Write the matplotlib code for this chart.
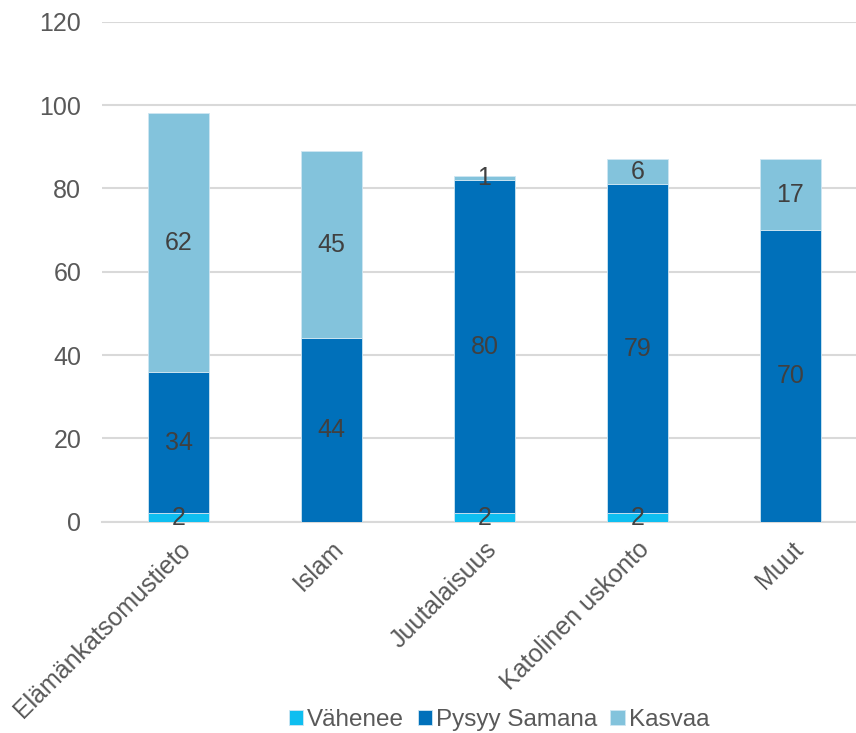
import numpy as np
import matplotlib.pyplot as plt

plt.rcParams['font.family'] = ['Liberation Sans', 'DejaVu Sans']

categories = ['Elämänkatsomustieto', 'Islam', 'Juutalaisuus', 'Katolinen uskonto', 'Muut']
vahenee = [2, 0, 2, 2, 0]
pysyy = [34, 44, 80, 79, 70]
kasvaa = [62, 45, 1, 6, 17]
series_names = ['Vähenee', 'Pysyy Samana', 'Kasvaa']
colors = ['#0EBEF0', '#0070BA', '#83C3DC']

W, H = 856, 733
fig = plt.figure(figsize=(W / 100, H / 100), dpi=100)
# plot area in pixels: left 102, right 867 (runs off the image), top 21.7, bottom 521.7
ax = fig.add_axes([102 / W, 1 - 521.7 / H, 765 / W, 500 / H])

fs = 18
x = np.arange(len(categories))
bottom = np.zeros(len(categories))
for vals, name, col in zip([vahenee, pysyy, kasvaa], series_names, colors):
    vals = np.array(vals, dtype=float)
    ax.bar(x, vals, 0.4, bottom=bottom, color=col, label=name,
           edgecolor='#CFE6F2', linewidth=0.6, zorder=3)
    for xi, v, b in zip(x, vals, bottom):
        if v > 0:
            ax.text(xi, b + v / 2, f'{int(v)}', ha='center', va='center',
                    fontsize=fs, color='#404040', zorder=4)
    bottom += vals

ax.set_xlim(-0.5, 4.5)
ax.set_ylim(0, 120)
ax.set_yticks(range(0, 121, 20))
ax.grid(axis='y', color='#D9D9D9', linewidth=1.5, zorder=0)
for s in ['top', 'right', 'left']:
    ax.spines[s].set_visible(False)
ax.spines['bottom'].set_color('#D9D9D9')
ax.spines['bottom'].set_linewidth(1.5)
ax.tick_params(axis='both', length=0, labelsize=fs, labelcolor='#595959')
ax.tick_params(axis='y', pad=15)
ax.set_xticks(x)
ax.set_xticklabels(categories, rotation=45, ha='right', va='top',
                   rotation_mode='anchor')
ax.tick_params(axis='x', pad=11)

leg = fig.legend(loc='center', bbox_to_anchor=(499 / W, 1 - 720 / H), ncol=3,
                 frameon=False, fontsize=17.5, handlelength=0.6, handleheight=0.6,
                 handletextpad=0.15, columnspacing=0.55)
for t in leg.get_texts():
    t.set_color('#595959')

fig.savefig('out.png', dpi=100)
